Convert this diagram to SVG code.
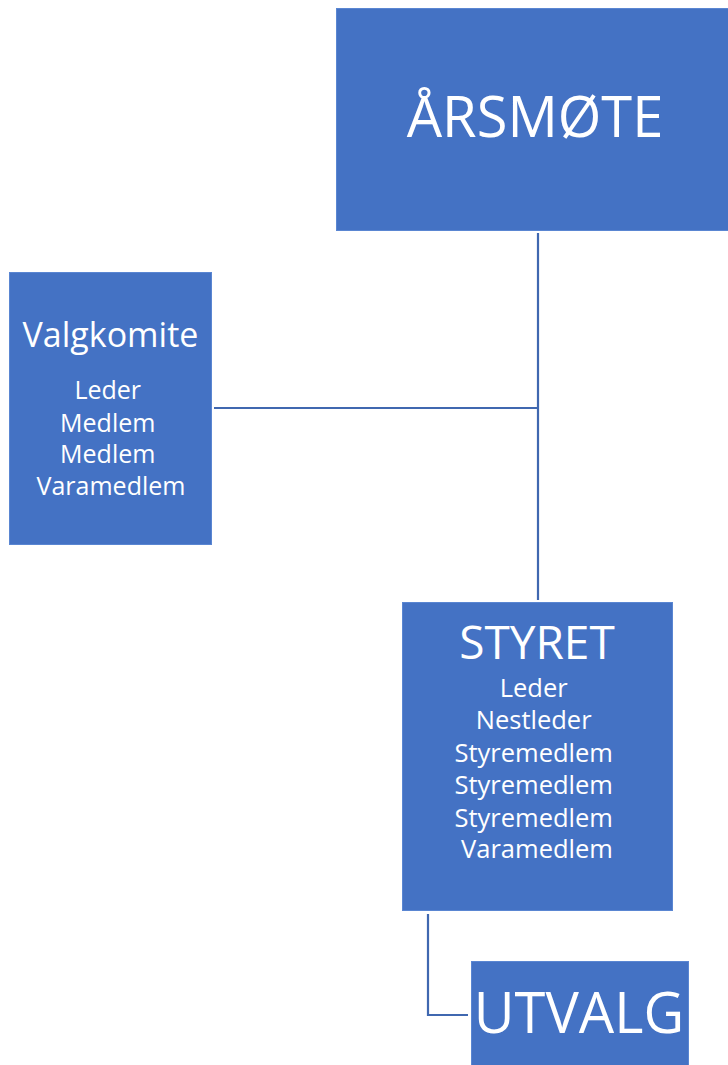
<svg xmlns="http://www.w3.org/2000/svg" width="728" height="1065" viewBox="0 0 728 1065">
<style>
.box{fill:#4472C4;stroke:#5a86d2;stroke-width:1}
.t{fill:#ffffff;font-family:"Open Sans","Noto Sans",sans-serif;text-anchor:middle}
.conn{fill:none;stroke:#4068b0;stroke-width:2.2}
</style>
<rect width="728" height="1065" fill="#ffffff"/>
<g id="connectors">
<line class="conn" x1="538" y1="233" x2="538" y2="600"/>
<line class="conn" x1="214" y1="408" x2="538" y2="408"/>
<polyline class="conn" points="428,914 428,1015 468,1015"/>
</g>
<g id="arsmote">
<rect class="box" x="336.5" y="8.5" width="392" height="222"/>
<text class="t" x="535" y="137" font-size="56">ÅRSMØTE</text>
</g>
<g id="valgkomite">
<rect class="box" x="9.5" y="272.5" width="202" height="272"/>
<text class="t" x="110.5" y="347" font-size="34">Valgkomite</text>
<text class="t" font-size="25">
<tspan x="111" y="399">Leder</tspan>
<tspan x="111" y="432">Medlem</tspan>
<tspan x="111" y="463">Medlem</tspan>
<tspan x="111" y="495">Varamedlem</tspan>
</text>
</g>
<g id="styret">
<rect class="box" x="402.5" y="602.5" width="270" height="308"/>
<text class="t" x="537" y="659" font-size="46">STYRET</text>
<text class="t" font-size="25.5">
<tspan x="537" y="697">Leder</tspan>
<tspan x="537" y="729">Nestleder</tspan>
<tspan x="537" y="762">Styremedlem</tspan>
<tspan x="537" y="794">Styremedlem</tspan>
<tspan x="537" y="827">Styremedlem</tspan>
<tspan x="537" y="858">Varamedlem</tspan>
</text>
</g>
<g id="utvalg">
<rect class="box" x="471.5" y="961.5" width="217" height="104"/>
<text class="t" x="579" y="1033" font-size="56">UTVALG</text>
</g>
</svg>
